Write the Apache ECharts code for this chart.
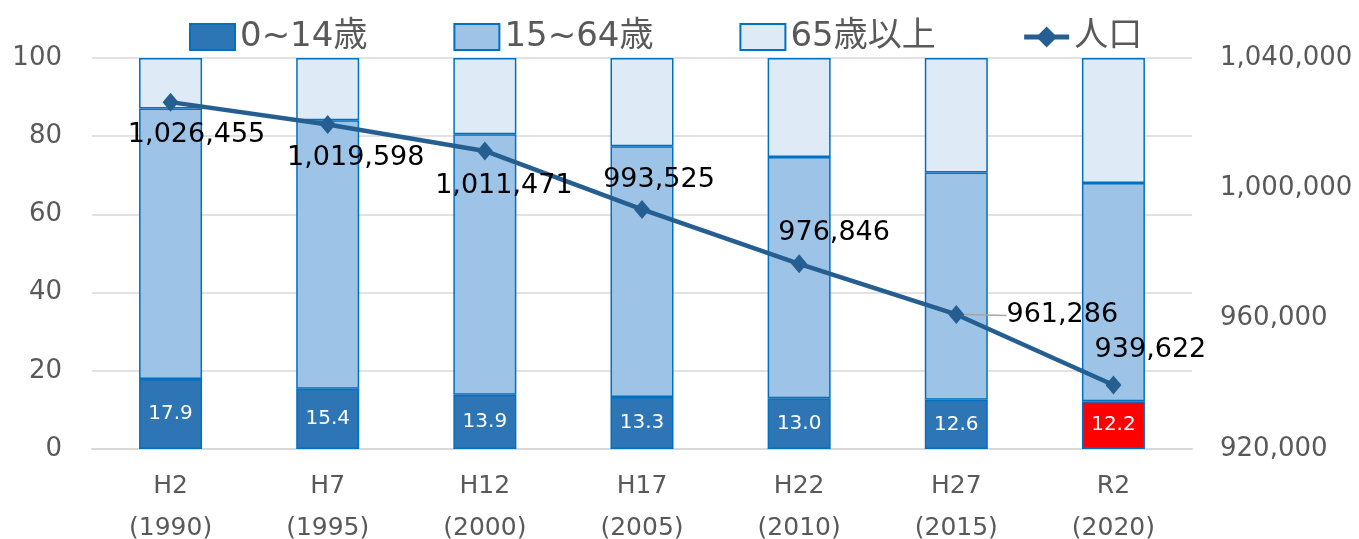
<!DOCTYPE html>
<html><head><meta charset="utf-8">
<script src="https://cdn.jsdelivr.net/npm/echarts@6/dist/echarts.min.js"></script>
<style>html,body{margin:0;padding:0;background:#fff}#c{width:1359px;height:539px}</style>
</head><body><div id="c"></div>
<script>
const categories = ['H2\n(1990)','H7\n(1995)','H12\n(2000)','H17\n(2005)','H22\n(2010)','H27\n(2015)','R2\n(2020)'];
const young = [17.9,15.4,13.9,13.3,13.0,12.6,12.2];
const working = [69.2,68.7,66.6,64.1,61.7,58.1,55.8];
const elderly = [12.9,15.9,19.5,22.6,25.3,29.3,32.0];
const population = [1026455,1019598,1011471,993525,976846,961286,939622];
const seriesNames = ['0~14歳','15~64歳','65歳以上','人口'];
const leftTicks = {min:0,max:100,interval:20};
const rightTicks = {min:920000,max:1040000,interval:40000};

const FONT = "'DejaVu Sans','Noto Sans CJK JP',sans-serif";
const labelOffsets = [[26,33],[28,34],[19,35],[17,-29],[35,-31],[106,1],[37,-35]];
const fmt = v => v.toLocaleString('en-US');

const chart = echarts.init(document.getElementById('c'));
const border = {borderColor:'#0070C0',borderWidth:1.5};
chart.setOption({
  animation:false,
  textStyle:{fontFamily:FONT},
  legend:{
    top:15,left:184,itemWidth:45,itemHeight:26,itemGap:86,
    textStyle:{fontSize:34,color:'#595959',fontFamily:FONT},
    data:[
      {name:seriesNames[0],icon:'rect'},
      {name:seriesNames[1],icon:'rect'},
      {name:seriesNames[2],icon:'rect'},
      {name:seriesNames[3],lineStyle:{width:5}}
    ]
  },
  grid:{left:92,right:167,top:58,bottom:90,containLabel:false,outerBoundsMode:'none'},
  xAxis:{
    type:'category',data:categories,
    axisLine:{lineStyle:{color:'#d9d9d9',width:2}},
    axisTick:{show:false},
    axisLabel:{color:'#595959',fontSize:25,lineHeight:42,margin:16,fontFamily:FONT}
  },
  yAxis:[
    {type:'value',min:leftTicks.min,max:leftTicks.max,interval:leftTicks.interval,
     axisLabel:{color:'#595959',fontSize:26,margin:30,fontFamily:FONT},
     splitLine:{lineStyle:{color:'#d9d9d9',width:1.5}},axisLine:{show:false},axisTick:{show:false}},
    {type:'value',min:rightTicks.min,max:rightTicks.max,interval:rightTicks.interval,
     axisLabel:{color:'#595959',fontSize:26,margin:28,fontFamily:FONT,formatter:v=>fmt(v)},
     splitLine:{show:false},axisLine:{show:false},axisTick:{show:false}}
  ],
  series:[
    {name:seriesNames[0],type:'bar',stack:'a',barWidth:63,
     itemStyle:Object.assign({color:'#2E75B6'},border),
     label:{show:true,position:'inside',color:'#fff',fontSize:20,fontFamily:FONT,formatter:p=>p.value.toFixed(1)},
     data:young.map((v,i)=> i===young.length-1 ? {value:v,itemStyle:{color:'#FF0000'}} : v)},
    {name:seriesNames[1],type:'bar',stack:'a',barWidth:63,
     itemStyle:Object.assign({color:'#9DC3E6'},border),data:working},
    {name:seriesNames[2],type:'bar',stack:'a',barWidth:63,
     itemStyle:Object.assign({color:'#DEEBF7'},border),data:elderly},
    {name:seriesNames[3],type:'line',yAxisIndex:1,z:10,
     symbol:'diamond',symbolSize:[16,19],
     lineStyle:{color:'#255E91',width:4.5},itemStyle:{color:'#255E91'},
     label:{show:true,position:'inside',color:'#000',fontSize:27,fontFamily:FONT,formatter:p=>fmt(p.value)},
     labelLayout:function(p){const o=labelOffsets[p.dataIndex];return {dx:o[0],dy:o[1]};},
     data:population.map((v,i)=>({value:v,
        labelLine: i===5 ? {show:true,lineStyle:{color:'#a6a6a6',width:1.5}} : {show:false}}))}
  ]
});
</script></body></html>
